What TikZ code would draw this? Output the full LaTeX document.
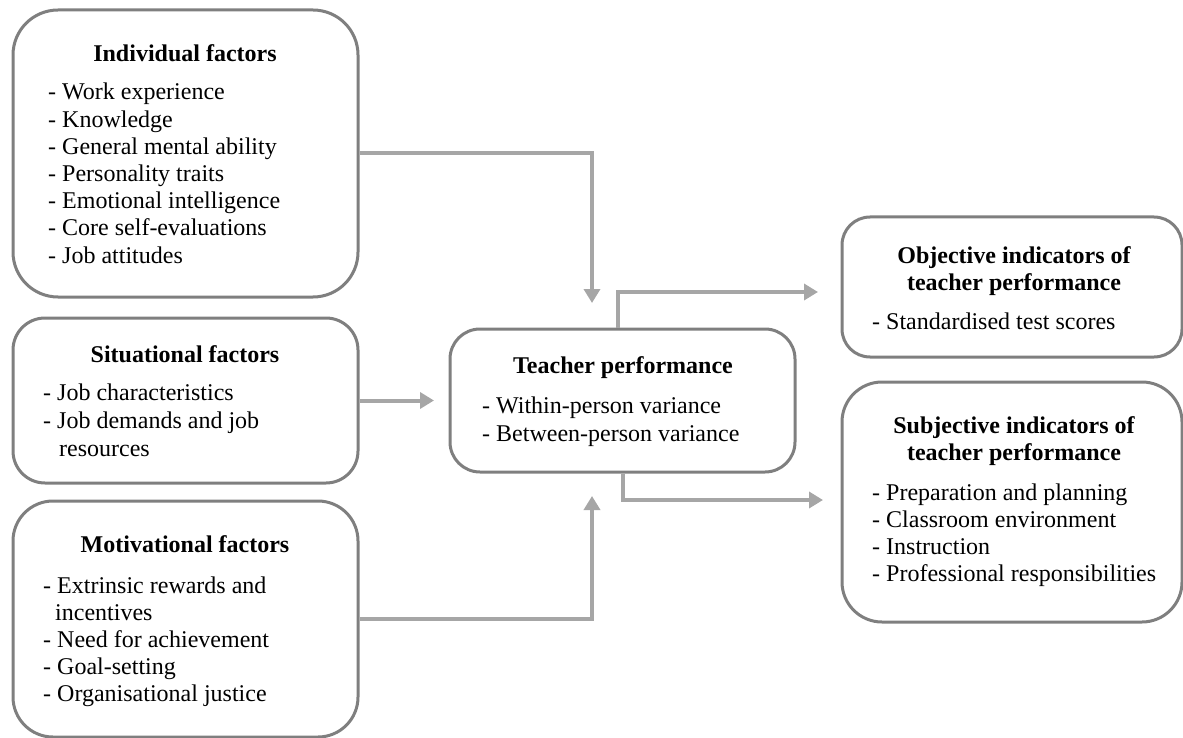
\documentclass[tikz,border=0pt]{standalone}
\usepackage{fontspec}
\setmainfont{Liberation Serif}
\usetikzlibrary{arrows.meta}
\definecolor{frame}{HTML}{7F7F7F}
\definecolor{link}{HTML}{A6A6A6}
\tikzset{
  box/.style={draw=frame, line width=3pt, fill=white, rectangle, inner sep=0pt},
  head/.style={font=\fontsize{24pt}{27pt}\selectfont\bfseries, inner sep=0pt, anchor=base},
  entry/.style={font=\fontsize{24pt}{27pt}\selectfont, inner sep=0pt, anchor=base west},
  conn/.style={draw=link, line width=4pt, line join=miter,
    -{Triangle[width=16pt,length=14pt]}},
}
\begin{document}
\begin{tikzpicture}[x=1pt,y=-1pt]
\useasboundingbox (0,0) rectangle (1183,738);

% factor boxes on the left
\node[box, minimum width=345pt, minimum height=287pt, rounded corners=45pt] (ind) at (185.5,153.5) {};
\node[box, minimum width=345pt, minimum height=165pt, rounded corners=32pt] (sit) at (185.5,400.5) {};
\node[box, minimum width=345pt, minimum height=236pt, rounded corners=40pt] (mot) at (185.5,619) {};

% central box
\node[box, minimum width=345pt, minimum height=143pt, rounded corners=30pt] (tea) at (622.5,400.5) {};

% indicator boxes on the right
\node[box, minimum width=340pt, minimum height=140pt, rounded corners=28pt] (obj) at (1012,287) {};
\node[box, minimum width=340pt, minimum height=240pt, rounded corners=40pt] (sub) at (1012,502) {};

% individual factors
\node[head] (ind-h) at (185,62) {Individual factors};
\foreach \t [count=\i] in {Work experience, Knowledge, General mental ability,
    Personality traits, Emotional intelligence, Core self-evaluations, Job attitudes}
  \node[entry] (ind-\i) at (48,{100+27.2*(\i-1)}) {- \t};

% situational factors
\node[head] (sit-h) at (185,362) {Situational factors};
\node[entry] (sit-1) at (43,400) {- Job characteristics};
\node[entry] (sit-2) at (43,428) {- Job demands and job};
\node[entry] (sit-3) at (59,456) {resources};

% motivational factors
\node[head] (mot-h) at (185,552) {Motivational factors};
\node[entry] (mot-1) at (43,593) {- Extrinsic rewards and};
\node[entry] (mot-2) at (55,620) {incentives};
\node[entry] (mot-3) at (43,647) {- Need for achievement};
\node[entry] (mot-4) at (43,674) {- Goal-setting};
\node[entry] (mot-5) at (43,701) {- Organisational justice};

% teacher performance
\node[head] (tea-h) at (623,373) {Teacher performance};
\node[entry] (tea-1) at (482,413) {- Within-person variance};
\node[entry] (tea-2) at (482,441) {- Between-person variance};

% objective indicators
\node[head] (obj-h1) at (1014,263) {Objective indicators of};
\node[head] (obj-h2) at (1014,290) {teacher performance};
\node[entry] (obj-1) at (872,329) {- Standardised test scores};

% subjective indicators
\node[head] (sub-h1) at (1014,433) {Subjective indicators of};
\node[head] (sub-h2) at (1014,460) {teacher performance};
\foreach \t [count=\i] in {Preparation and planning, Classroom environment,
    Instruction, Professional responsibilities}
  \node[entry] (sub-\i) at (872,{500+27.3*(\i-1)}) {- \t};

% arrow ends
\coordinate (in-a) at (592,303);
\coordinate (in-b) at (434,400.5);
\coordinate (in-c) at (592,496);
\coordinate (out-a) at (818,292);
\coordinate (out-b) at (823,500);

% connectors
\draw[conn] (ind.east) -| (in-a);
\draw[conn] (sit.east) -- (in-b);
\draw[conn] (mot.east) -| (in-c);
\draw[conn] ([xshift=-4.5pt]tea.north) |- (out-a);
\draw[conn] ([xshift=0.5pt]tea.south) |- (out-b);
\end{tikzpicture}
\end{document}
